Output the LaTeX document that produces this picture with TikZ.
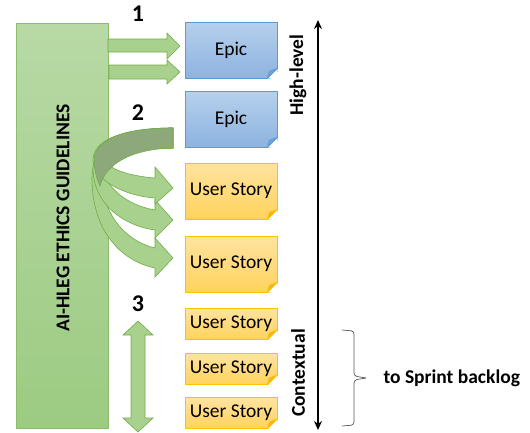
\documentclass[tikz,border=0pt]{standalone}
\usepackage{fontspec}
\setmainfont{Carlito}
\usetikzlibrary{calc,arrows.meta}

\definecolor{guidegreen}{HTML}{A9D18E}
\definecolor{guidetop}{HTML}{B8D9A5}
\definecolor{guidebot}{HTML}{9CCB82}
\definecolor{arrowline}{HTML}{70AD47}
\definecolor{curlback}{HTML}{8DA97B}
\definecolor{epictop}{HTML}{B6D0EC}
\definecolor{epicbot}{HTML}{8DB3E0}
\definecolor{epicline}{HTML}{5B9BD5}
\definecolor{epicfold}{HTML}{7AA3D6}
\definecolor{storytop}{HTML}{FFE3A0}
\definecolor{storybot}{HTML}{FFD35C}
\definecolor{storyline}{HTML}{FFC000}
\definecolor{storyfold}{HTML}{F2B430}

\tikzset{
  epicbox/.style={draw=epicline, top color=epictop, bottom color=epicbot, line width=0.8pt,
    minimum width=92pt, minimum height=56pt, font=\fontsize{19.5}{22}\selectfont},
  storybox/.style={draw=storyline, top color=storytop, bottom color=storybot, line width=0.8pt,
    minimum width=92pt, minimum height=56pt, font=\fontsize{19.5}{22}\selectfont},
  smallstory/.style={storybox, minimum height=31pt},
  blockarrow/.style={fill=guidegreen, draw=arrowline, line width=0.6pt},
  sidelabel/.style={rotate=90, font=\bfseries\fontsize{19.5}{22}\selectfont},
  stepnum/.style={font=\bfseries\fontsize{24}{26}\selectfont}
}

% folded corner at the south east of a box
\newcommand{\foldcorner}[3]{%
  \fill[white] ($(#1.south east)+(-10,0)$) -- ($(#1.south east)+(1,1)$) -- ($(#1.south east)+(0,-10)$) -- cycle;
  \filldraw[fill=#2, draw=#3, line width=0.8pt, line join=round]
    ($(#1.south east)+(-10,0)$) -- ($(#1.south east)+(0,-10)$) -- ($(#1.south east)+(-8,-7)$) -- cycle;
}

\begin{document}
\begin{tikzpicture}[x=1pt, y=-1pt]
  \useasboundingbox (0,0) rectangle (530,432);
  % Guidelines column
  \node[draw=arrowline!80, top color=guidetop, bottom color=guidebot, line width=0.6pt,
        minimum width=92pt, minimum height=405pt, inner sep=0pt] (guide) at (62,225.5) {};
  \node[sidelabel] (guidetext) at (63,218) {AI-HLEG ETHICS GUIDELINES};
  % Step numbers
  \node[stepnum] (one) at (138,14) {1};
  \node[stepnum] (two) at (138,113) {2};
  \node[stepnum] (three) at (138,304) {3};
  % Backlog items
  \node[epicbox] (epicA) at (231,50) {Epic};
  \node[epicbox] (epicB) at (231,119) {Epic};
  \node[storybox] (storyA) at (231,191) {User Story};
  \node[storybox] (storyB) at (231,264) {User Story};
  \node[smallstory] (storyC) at (231,324) {User Story};
  \node[smallstory] (storyD) at (231,369) {User Story};
  \node[smallstory] (storyE) at (231,413) {User Story};
  \foldcorner{epicA}{epicfold}{epicline}
  \foldcorner{epicB}{epicfold}{epicline}
  \foldcorner{storyA}{storyfold}{storyline}
  \foldcorner{storyB}{storyfold}{storyline}
  \foldcorner{storyC}{storyfold}{storyline}
  \foldcorner{storyD}{storyfold}{storyline}
  \foldcorner{storyE}{storyfold}{storyline}
  % Step 1: straight arrows
  \draw[blockarrow] (108,39) -- (167,39) -- (167,33) -- (180,46) -- (167,59) -- (167,52) -- (108,52) -- cycle;
  \draw[blockarrow] (109,65) -- (167,65) -- (167,60) -- (180,72) -- (167,84) -- (167,79) -- (109,79) -- cycle;
  % Step 2: curved arrows
  \draw[blockarrow] (173,128) .. controls (118,128) and (92,148) .. (92,178)
    .. controls (92,235) and (125,262) .. (155,268) -- (155,277) -- (173,258) -- (155,238) -- (155,248)
    .. controls (122,240) and (102,210) .. (102,178) .. controls (102,156) and (130,148) .. (173,148) -- cycle;
  \draw[blockarrow] (173,128) .. controls (118,128) and (93,145) .. (93,168)
    .. controls (93,205) and (125,226) .. (155,230) -- (155,238) -- (173,220) -- (155,200) -- (155,210)
    .. controls (125,205) and (104,185) .. (104,168) .. controls (104,153) and (130,148) .. (173,148) -- cycle;
  \draw[blockarrow] (173,128) .. controls (118,128) and (93,142) .. (93,160)
    .. controls (93,180) and (125,196) .. (155,198) -- (155,204) -- (173,188) -- (155,167) -- (155,178)
    .. controls (128,176) and (106,168) .. (106,160) .. controls (106,152) and (130,148) .. (173,148) -- cycle;
  \draw[fill=curlback, draw=arrowline, line width=0.6pt] (173,128) .. controls (118,128) and (93,142) .. (94,162)
    .. controls (95,172) and (97,180) .. (100,186) .. controls (105,165) and (130,149) .. (173,148) -- cycle;
  % Step 3: double arrow
  \draw[blockarrow] (138,321) -- (153,335) -- (145,335) -- (145,418) -- (153,418) -- (138,432)
    -- (123,418) -- (131,418) -- (131,335) -- (123,335) -- cycle;
  % Level axis
  \coordinate (axtop) at (318,20);
  \coordinate (axbot) at (318,430);
  \draw[{Stealth[length=9pt,width=8pt]}-{Stealth[length=9pt,width=8pt]}, line width=2pt] (axtop) -- (axbot);
  \node[sidelabel] (high) at (298,75) {High-level};
  \node[sidelabel] (context) at (298,373) {Contextual};
  % Sprint backlog brace
  \coordinate (bracetop) at (342,330);
  \coordinate (bracebot) at (342,426);
  \coordinate (bracetip) at (366,378);
  \draw[gray!70!black, line width=0.7pt, rounded corners=3pt]
    (bracetop) -- (354,331) -- (354,376) -- (bracetip);
  \draw[gray!70!black, line width=0.7pt, rounded corners=3pt]
    (bracebot) -- (354,425) -- (354,380) -- (bracetip);
  \node[anchor=west, font=\bfseries\fontsize{19.5}{22}\selectfont] (sprint) at (380,378) {to Sprint backlog};
\end{tikzpicture}
\end{document}
